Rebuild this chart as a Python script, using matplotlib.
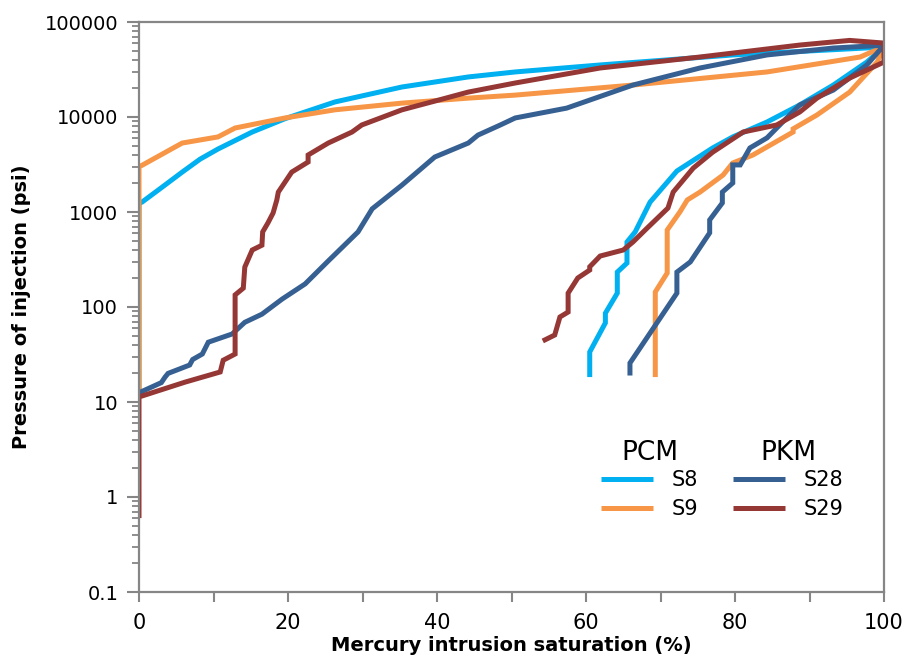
import matplotlib
matplotlib.use("Agg")
import matplotlib.pyplot as plt
from matplotlib.ticker import FixedLocator, LogLocator, NullFormatter

# ---- data (x: mercury saturation %, y: pressure psi) ----
s8_int_x = [0, 0, 0.4, 3.0, 5.8, 8.2, 10.6, 15.2, 19.6, 26.3, 35.3, 44.2, 50.5, 61.9, 79.7, 100]
s8_int_y = [13, 1250, 1270, 1800, 2630, 3600, 4600, 6950, 9600, 14400, 20700, 26400, 29800, 35300, 45000, 54500]
s8_ext_x = [97.7, 93.2, 88.7, 84.3, 79.7, 77.0, 72.2, 68.6, 66.6, 65.5, 65.5, 64.2, 64.2, 62.6, 62.6, 60.5, 60.5]
s8_ext_y = [37900, 21700, 13400, 8860, 6170, 4720, 2700, 1270, 617, 483, 290, 233, 140, 86, 68, 33.6, 18.3]

s9_int_x = [0, 0, 0.4, 5.8, 10.6, 12.9, 19.6, 26.3, 35.3, 44.2, 50.5, 66.3, 84.3, 96.8, 100]
s9_int_y = [13, 3000, 3100, 5320, 6170, 7660, 9770, 11900, 14000, 15800, 17000, 21700, 29800, 42800, 55000]
s9_ext_x = [99.1, 95.4, 91.0, 87.8, 87.8, 82.4, 79.7, 78.4, 75.3, 73.6, 72.6, 70.9, 70.9, 69.3, 69.3]
s9_ext_y = [38000, 18300, 10500, 7500, 6950, 3980, 3280, 2450, 1620, 1340, 1000, 646, 228, 144, 18.3]

s28_int_x = [0, 3.0, 3.5, 3.9, 6.8, 7.2, 8.5, 9.3, 12.5, 14.2, 16.5, 19.2, 22.3, 25.4, 29.4, 31.3,
             35.3, 39.7, 44.2, 45.5, 48.5, 50.5, 57.4, 66.3, 75.3, 84.3, 93.2, 100]
s28_int_y = [12.5, 16, 18.3, 20, 24.5, 28, 32, 42.6, 52, 69, 84, 121, 175, 305, 617, 1080,
             1920, 3790, 5320, 6450, 8240, 9770, 12400, 21700, 32800, 45000, 53200, 57000]
s28_ext_x = [97.7, 93.2, 88.7, 86.4, 84.3, 82.0, 80.7, 79.7, 79.7, 78.3, 78.3, 76.6, 76.6, 74.0, 72.2, 72.2, 65.9, 65.9]
s28_ext_y = [35300, 19200, 13400, 8860, 6030, 4720, 3130, 3130, 2020, 1620, 1245, 825, 603, 298, 233, 140, 25.7, 19]

s29_int_x = [0, 0, 6.2, 10.9, 11.3, 12.9, 12.9, 14.0, 14.2, 15.2, 16.5, 16.6, 17.3, 18.0, 18.5, 18.7,
             20.5, 22.7, 22.7, 25.4, 28.6, 29.9, 35.3, 39.7, 44.2, 50.5, 61.9, 75.3, 88.7, 95.4, 100]
s29_int_y = [0.6, 11.3, 16.2, 20.7, 27.5, 32, 134, 158, 263, 398, 447, 617, 766, 977, 1340, 1620,
             2630, 3360, 3980, 5320, 6950, 8240, 11900, 14700, 18300, 22800, 32800, 42800, 57200, 64000, 60000]
s29_ext_x = [100, 95.4, 91.0, 88.7, 85.6, 81.1, 77.0, 74.4, 71.7, 71.0, 68.2, 66.3, 65.0, 61.9, 60.5,
             60.5, 58.9, 57.6, 57.6, 56.5, 55.8, 54.2]
s29_ext_y = [37900, 25700, 15800, 11300, 8240, 6950, 4260, 2900, 1620, 1100, 676, 483, 398, 344, 265,
             245, 202, 140, 88.5, 78.5, 50.7, 43.9]

names = ["S8", "S9", "S28", "S29"]
colors = ["#00B0F0", "#F79646", "#376092", "#953735"]
series = [
    (s8_int_x + s8_ext_x, s8_int_y + s8_ext_y),
    (s9_int_x + s9_ext_x, s9_int_y + s9_ext_y),
    (s28_int_x + s28_ext_x, s28_int_y + s28_ext_y),
    (s29_int_x + s29_ext_x, s29_int_y + s29_ext_y),
]
xticks = [0, 20, 40, 60, 80, 100]
yticks = [0.1, 1, 10, 100, 1000, 10000, 100000]
ytick_labels = ["0.1", "1", "10", "100", "1000", "10000", "100000"]

fig = plt.figure(figsize=(9.1, 6.7), dpi=100)
ax = fig.add_axes([139 / 910, 78 / 670, 745 / 910, 570 / 670])

lines = []
for (xs, ys), c, n in zip(series, colors, names):
    ln, = ax.plot(xs, ys, color=c, lw=3.6, label=n, solid_joinstyle="miter", solid_capstyle="butt")
    lines.append(ln)

ax.set_yscale("log")
ax.set_xlim(0, 100)
ax.set_ylim(0.1, 100000)

gray = "#868686"
for sp in ax.spines.values():
    sp.set_color(gray)
    sp.set_linewidth(1.6)

ax.xaxis.set_major_locator(FixedLocator(xticks))
ax.xaxis.set_minor_locator(FixedLocator([10, 30, 50, 70, 90]))
ax.yaxis.set_major_locator(FixedLocator(yticks))
ax.set_yticklabels(ytick_labels)
ax.yaxis.set_minor_locator(LogLocator(base=10, subs=range(2, 10), numticks=20))
ax.yaxis.set_minor_formatter(NullFormatter())

ax.tick_params(axis="x", which="both", direction="out", length=7, width=1.5, color=gray,
               labelsize=15, pad=8)
ax.tick_params(axis="y", which="major", direction="out", length=9, width=1.5, color=gray,
               labelsize=14, pad=6)
ax.tick_params(axis="y", which="minor", direction="out", length=5, width=1.3, color=gray)

ax.set_xlabel("Mercury intrusion saturation (%)", fontsize=14, fontweight="bold", labelpad=2)
ax.set_ylabel("Pressure of injection (psi)", fontsize=14, fontweight="bold", labelpad=10)

common = dict(loc="upper left", frameon=False, fontsize=15, title_fontsize=19, handlelength=2.5,
              handletextpad=0.9, labelspacing=0.45, borderaxespad=0, borderpad=0)
leg1 = ax.legend(handles=lines[:2], title="PCM", bbox_to_anchor=(0.62, 0.267), **common)
leg1._legend_box.sep = 3
ax.add_artist(leg1)
leg2 = ax.legend(handles=lines[2:], title="PKM", bbox_to_anchor=(0.797, 0.267), **common)
leg2._legend_box.sep = 3

fig.savefig("out.png", dpi=100)
